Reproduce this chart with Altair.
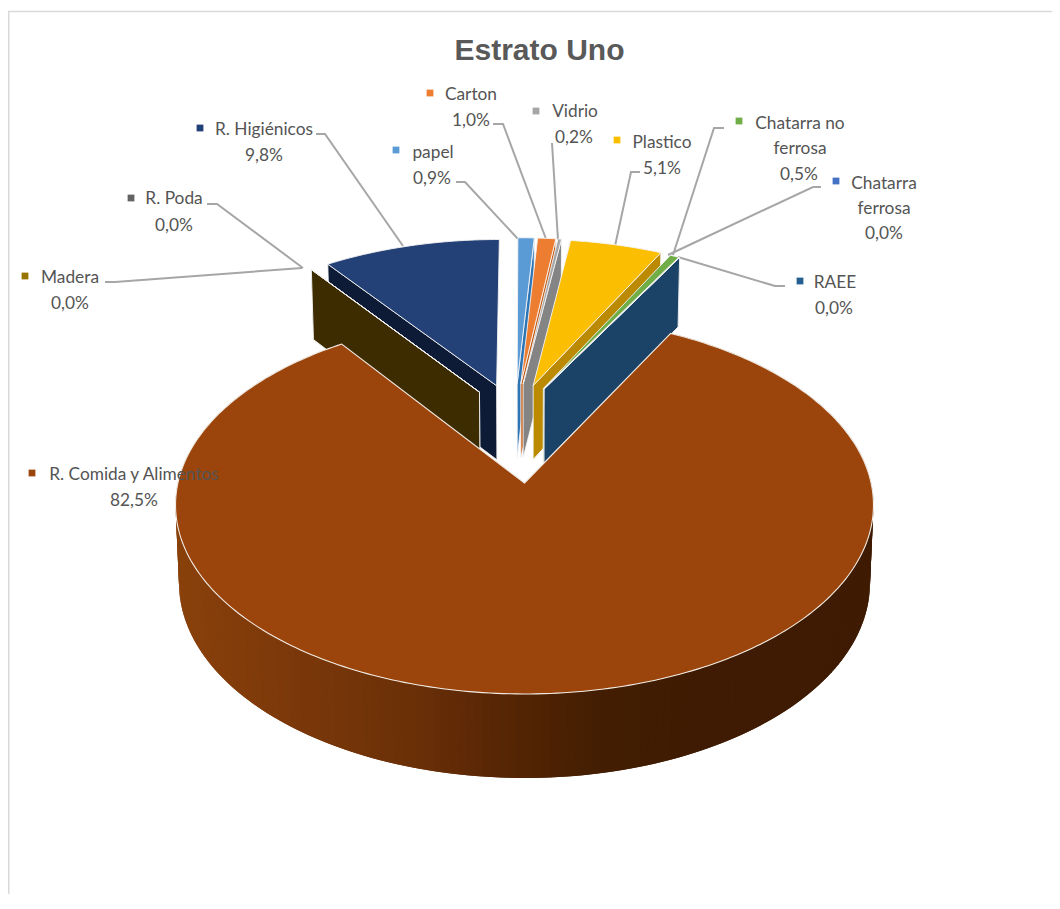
import math
import altair as alt
import pandas as pd

# ---- chart values ----
categories = ["papel", "Carton", "Vidrio", "Plastico", "Chatarra no ferrosa", "Chatarra ferrosa",
              "RAEE", "R. Comida y Alimentos", "Madera", "R. Poda", "R. Higiénicos"]
values = [0.9, 1.0, 0.2, 5.1, 0.5, 0.0, 0.0, 82.5, 0.0, 0.0, 9.8]
top_colors = ["#5b9bd5", "#ed7d31", "#a5a5a5", "#fbbe00", "#70ad47", "#4472c4",
              "#255e91", "#9b450c", "#997300", "#636363", "#234176"]
wall_colors = ["#2e75b6", "#c55a11", "#848484", "#bb8a00", "#4c8a2a", "#2f5597",
               "#1b4367", "#6b3008", "#3d2c00", "#3a3a3a", "#0d1b36"]
title_text = "Estrato Uno"

# label lines: text, centre x, y  (layout, in page pixels)
label_lines = [
    ("Carton", 471, 95), ("1,0%", 471, 121),
    ("R. Higiénicos", 264, 130), ("9,8%", 264, 156),
    ("papel", 433, 153), ("0,9%", 432, 179),
    ("R. Poda", 174, 199), ("0,0%", 174, 226),
    ("Madera", 70, 278), ("0,0%", 70, 304),
    ("Vidrio", 575, 112), ("0,2%", 574, 138),
    ("Plastico", 662, 143), ("5,1%", 662, 169),
    ("Chatarra no", 800, 124), ("ferrosa", 800, 149), ("0,5%", 799, 175),
    ("Chatarra", 884, 184), ("ferrosa", 884, 209), ("0,0%", 884, 234),
    ("RAEE", 835, 283), ("0,0%", 834, 309),
    ("R. Comida y Alimentos", 134, 475), ("82,5%", 134, 501),
]
key_pos = {"Carton": (430, 93), "R. Higiénicos": (200, 128), "papel": (396, 150), "R. Poda": (131, 198),
           "Madera": (25, 276), "Vidrio": (536, 111), "Plastico": (617, 140), "Chatarra no ferrosa": (739, 121),
           "Chatarra ferrosa": (836, 181), "RAEE": (800, 281), "R. Comida y Alimentos": (32, 473)}
leaders = [
    [(493, 124), (503, 124), (546, 239)],
    [(316, 134), (325, 134), (403, 246)],
    [(456, 182), (465, 182), (518, 239)],
    [(207, 204), (217, 204), (303, 268)],
    [(105, 282), (115, 282), (302, 268)],
    [(552, 143), (558, 240)],
    [(640, 172), (631, 172), (615, 246)],
    [(724, 128), (714, 128), (673, 255)],
    [(821, 187), (813, 187), (668, 255)],
    [(785, 286), (775, 286), (678, 257)],
]
frame = [(1052, 11.5), (8.7, 11.5), (8.7, 894)]

# ---- 3D view parameters ----
OX, OY = 8, 8             # page margin
CX, CY = 524.5, 483       # projected centre of the largest slice
RX, RY = 346.6, 186.4
K, K2 = 0.1164, 0.08      # perspective
DEPTH = 77.3
CU, CV, EU, EV = -0.028, 0.284, 0.19, 0.285   # explosion
BACK_RU, BACK_RV = 0.99, 0.985                # outer radius of the slices at the back


def project(u, v, drop=False):
    den = 1 + K * v
    x = CX + RX * u / den
    y = CY - RY * v / den
    if drop:
        x = CX + (x - CX) * 0.99
        y += DEPTH / (1 + K2 * v)
    return [round(x - OX, 2), round(y - OY, 2)]


def feature(ring, fill, stroke, sw):
    return {"type": "Feature",
            "geometry": {"type": "Polygon", "coordinates": [ring + [ring[0]]]},
            "properties": {"fill": fill, "stroke": stroke, "sw": sw}}


def mix_wall(x):
    stops = [(175, (0x8a, 0x41, 0x0c)), (300, (0x7a, 0x38, 0x0a)), (400, (0x6d, 0x31, 0x08)),
             (500, (0x57, 0x26, 0x05)), (600, (0x43, 0x1e, 0x02)), (700, (0x3e, 0x1b, 0x02))]
    if x <= stops[0][0]:
        c = stops[0][1]
    elif x >= stops[-1][0]:
        c = stops[-1][1]
    else:
        for (a, ca), (b, cb) in zip(stops, stops[1:]):
            if a <= x <= b:
                t = (x - a) / (b - a)
                c = tuple(int(ca[i] + (cb[i] - ca[i]) * t) for i in range(3))
                break
    return "#%02x%02x%02x" % c


# slice angles
total = sum(values)
angles = []
acc = 0.0
for val in values:
    start = acc / total * 2 * math.pi
    acc += val
    angles.append((start, acc / total * 2 * math.pi))

big = values.index(max(values))


def offset(i):
    if i == big:
        return (0.0, 0.0)
    mid = sum(angles[i]) / 2
    return (CU + EU * math.sin(mid), CV + EV * math.cos(mid))


def rim(i, theta):
    ou, ov = offset(i)
    ru, rv = (1.0, 1.0) if i == big else (BACK_RU, BACK_RV)
    return (ou + ru * math.sin(theta), ov + rv * math.cos(theta))


def arc(i, n):
    s, e = angles[i]
    return [rim(i, s + (e - s) * j / n) for j in range(n + 1)]


def top_face(i, n):
    ou, ov = offset(i)
    return [project(ou, ov)] + [project(u, v) for u, v in arc(i, n)]


def radial_wall(i, theta):
    ou, ov = offset(i)
    uo, vo = rim(i, theta)
    return [project(ou, ov), project(uo, vo), project(uo, vo, True), project(ou, ov, True)]


features = []
back_order = list(range(0, big)) + list(range(len(values) - 1, big, -1))
for i in back_order:
    s, e = angles[i]
    theta = e if i < big else s
    features.append(feature(radial_wall(i, theta), wall_colors[i], "#f4f4f4", 0.9))
    features.append(feature(top_face(i, max(2, int((e - s) * 60))), top_colors[i], "#f4f4f4", 0.9))

# outer wall of the largest slice, in overlapping narrow strips
pts = arc(big, 240)
pairs = list(zip(pts, pts[2:]))
for (u0, v0), (u1, v1) in pairs:
    a, b = project(u0, v0), project(u1, v1)
    c, d = project(u1, v1, True), project(u0, v0, True)
    col = mix_wall((a[0] + b[0]) / 2 + OX)
    features.append(feature([a, b, c, d], col, col, 0))
features.append(feature(top_face(big, 300), top_colors[big], "#f1ebe4", 1.1))

# ---- tables ----
line_rows = []
for gid, path in enumerate(leaders):
    for k, (x, y) in enumerate(path):
        line_rows.append({"g": gid, "k": k, "x": x - OX, "y": y - OY})
line_df = pd.DataFrame(line_rows)
frame_df = pd.DataFrame([{"k": k, "x": x - OX, "y": y - OY} for k, (x, y) in enumerate(frame)])
text_df = pd.DataFrame([{"t": t, "x": x - OX, "y": y - OY} for t, x, y in label_lines])
key_df = pd.DataFrame([{"name": n, "x": p[0] - OX, "y": p[1] - OY,
                        "c": top_colors[categories.index(n)]} for n, p in key_pos.items()])
title_df = pd.DataFrame([{"t": title_text, "x": 539.5 - OX, "y": 50.5 - OY}])

X = alt.X("x:Q", scale=None, axis=None)
Y = alt.Y("y:Q", scale=None, axis=None)

frame_layer = alt.Chart(frame_df).mark_line(color="#d9d9d9", strokeWidth=1.6, clip=True).encode(x=X, y=Y, order="k:Q")
leader_layer = alt.Chart(line_df).mark_line(color="#a6a6a6", strokeWidth=2).encode(
    x=X, y=Y, detail="g:N", order="k:Q")
pie_layer = alt.Chart(alt.Data(values=features)).mark_geoshape().encode(
    fill=alt.Fill("properties.fill:N", scale=None),
    stroke=alt.Stroke("properties.stroke:N", scale=None),
    strokeWidth=alt.StrokeWidth("properties.sw:Q", scale=None),
).project(type="identity", scale=1, translate=[0, 0])
key_layer = alt.Chart(key_df).mark_square(size=46, opacity=1).encode(
    x=X, y=Y, color=alt.Color("c:N", scale=None))
text_layer = alt.Chart(text_df).mark_text(font="Lato", fontSize=17.3, color="#545454", align="center",
                                          baseline="middle").encode(x=X, y=Y, text="t:N")
title_layer = alt.Chart(title_df).mark_text(font="Liberation Sans", fontSize=30, fontWeight="bold",
                                            color="#595959", align="center", baseline="middle").encode(
    x=X, y=Y, text="t:N")

chart = alt.layer(frame_layer, leader_layer, pie_layer, key_layer, text_layer, title_layer).properties(
    width=1044, height=886, padding=0, background="white",
    autosize=alt.AutoSizeParams(type="none")
).configure_view(stroke=None)

chart.save("out.html", embed_options={"renderer": "svg", "actions": False})
